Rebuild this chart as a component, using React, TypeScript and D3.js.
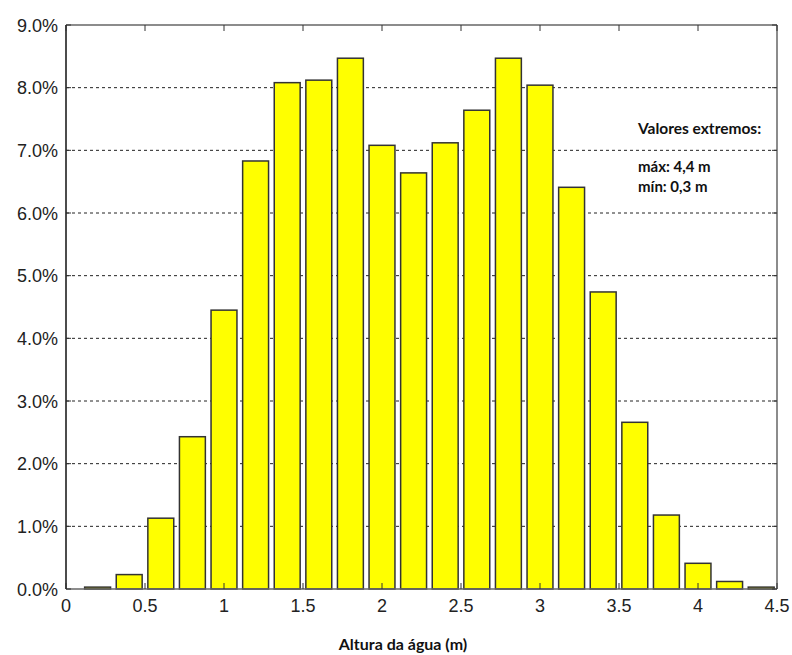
import React from "react";
import * as d3 from "d3";

const binCenters = [0.2, 0.4, 0.6, 0.8, 1.0, 1.2, 1.4, 1.6, 1.8, 2.0, 2.2, 2.4, 2.6, 2.8, 3.0, 3.2, 3.4, 3.6, 3.8, 4.0, 4.2, 4.4];
const percentages = [0.03, 0.23, 1.13, 2.43, 4.45, 6.83, 8.08, 8.12, 8.47, 7.08, 6.64, 7.12, 7.64, 8.47, 8.04, 6.41, 4.74, 2.66, 1.18, 0.41, 0.12, 0.03];
const xTicks = [0, 0.5, 1, 1.5, 2, 2.5, 3, 3.5, 4, 4.5];
const yTicks = [0, 1, 2, 3, 4, 5, 6, 7, 8, 9];
const xLabel = "Altura da água (m)";
const noteLines = ["Valores extremos:", "máx: 4,4 m", "mín: 0,3 m"];

const W = 792, H = 655;
const L = 66, R = 777, T = 25, B = 589;

export default function App() {
  const x = d3.scaleLinear().domain([0, 4.5]).range([L, R]);
  const y = d3.scaleLinear().domain([0, 9]).range([B, T]);
  const bw = (x(0.2) - x(0)) * 0.82;
  const tickFont = "Arial, 'Liberation Sans', sans-serif";
  const noteFont = "Lato, 'Open Sans', sans-serif";
  return (
    <svg width={W} height={H} style={{ position: "absolute", left: 0, top: 0 }}>
      <rect x={0} y={0} width={W} height={H} fill="#fff" />
      {yTicks.filter(t => t > 0 && t < 9).map(t => (
        <line key={"g" + t} x1={L} x2={R} y1={y(t)} y2={y(t)} stroke="#222" strokeWidth={1} strokeDasharray="3,3" />
      ))}
      {binCenters.map((c, i) => (
        <rect key={"b" + i} x={x(c) - bw / 2} y={y(percentages[i])} width={bw} height={B - y(percentages[i])}
          fill="#ffff00" stroke="#333" strokeWidth={1.5} />
      ))}
      <line x1={L} x2={R} y1={T} y2={T} stroke="#666" strokeWidth={1.5} />
      <line x1={R} x2={R} y1={T} y2={B} stroke="#666" strokeWidth={1.5} />
      <line x1={L} x2={R} y1={B} y2={B} stroke="#666" strokeWidth={1.5} />
      <line x1={L} x2={L} y1={T} y2={B} stroke="#111" strokeWidth={1.5} />
      {xTicks.map(t => (
        <g key={"xt" + t}>
          <line x1={x(t)} x2={x(t)} y1={B} y2={B - 6} stroke="#333" strokeWidth={1} />
          <line x1={x(t)} x2={x(t)} y1={T} y2={T + 6} stroke="#333" strokeWidth={1} />
          <text x={x(t)} y={B + 23} textAnchor="middle" fontFamily={tickFont} fontSize={18} fill="#222">{t}</text>
        </g>
      ))}
      {yTicks.map(t => (
        <g key={"yt" + t}>
          <line x1={L} x2={L + 5} y1={y(t)} y2={y(t)} stroke="#333" strokeWidth={1} />
          <line x1={R} x2={R - 5} y1={y(t)} y2={y(t)} stroke="#333" strokeWidth={1} />
          <text x={L - 8} y={y(t) + 6.5} textAnchor="end" fontFamily={tickFont} fontSize={18} fill="#222">{d3.format(".1f")(t) + "%"}</text>
        </g>
      ))}
      <text x={403} y={650} textAnchor="middle" fontFamily={noteFont} fontWeight="bold" fontSize={16} fill="#111">{xLabel}</text>
      <text x={638} y={134} fontFamily={noteFont} fontWeight="bold" fontSize={15.5} fill="#111">{noteLines[0]}</text>
      <text x={638} y={172} fontFamily={noteFont} fontWeight="bold" fontSize={15} fill="#111">{noteLines[1]}</text>
      <text x={638} y={192} fontFamily={noteFont} fontWeight="bold" fontSize={15} fill="#111">{noteLines[2]}</text>
    </svg>
  );
}
